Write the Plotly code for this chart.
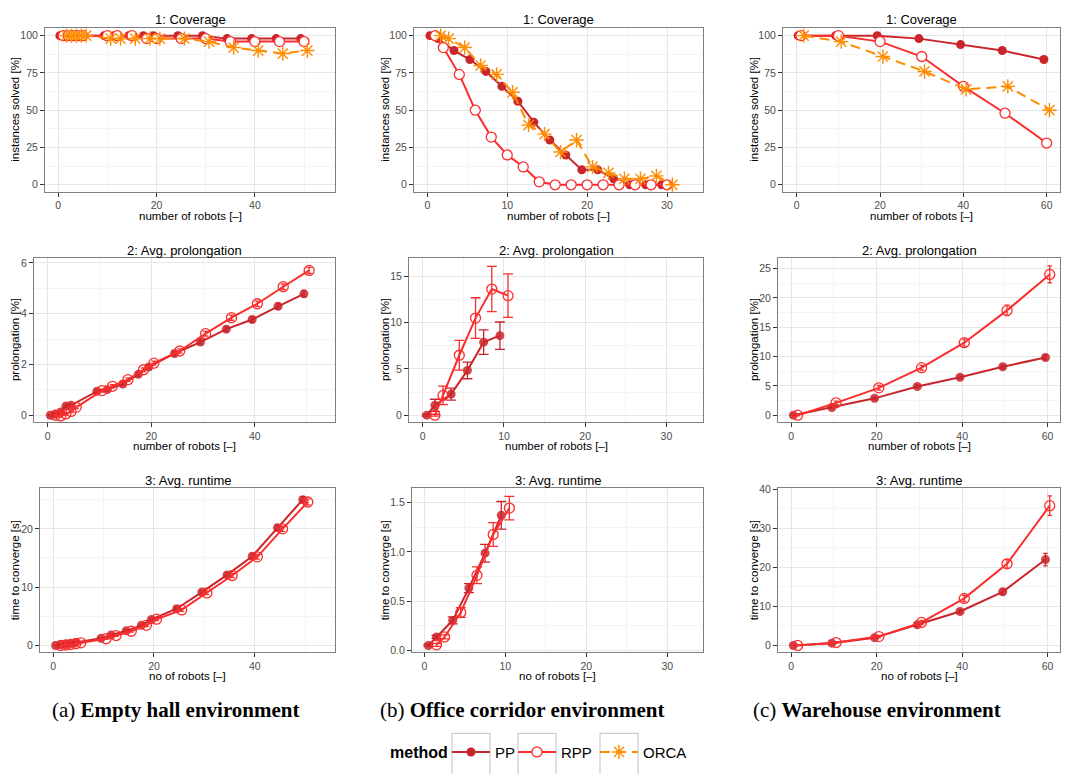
import plotly.graph_objects as go
from plotly.subplots import make_subplots

# ---------------- data ----------------
methods = ["PP", "RPP", "ORCA"]

hall_n = [1, 2, 3, 4, 5, 10, 12, 15, 18, 20, 25, 30, 35, 40, 45, 50]
hall_cov_pp = [100, 100, 100, 100, 100, 100, 100, 100, 100, 100, 100, 100, 98, 98, 98, 98]
hall_cov_rpp = [100, 100, 100, 100, 100, 100, 100, 100, 98, 98, 98, 98, 96, 96, 96, 96]
hall_cov_orca = [100, 100, 100, 100, 100, 98, 98, 98, 98, 98, 98, 96, 92, 90, 88, 90]
hall_prol_pp = [0.0, 0.04, 0.13, 0.36, 0.39, 0.94, 1.01, 1.23, 1.61, 1.9, 2.43, 2.88, 3.39, 3.77, 4.29, 4.78]
hall_prol_pp_err = [0.02, 0.03, 0.04, 0.05, 0.05, 0.06, 0.06, 0.06, 0.07, 0.07, 0.08, 0.08, 0.09, 0.1, 0.1, 0.12]
hall_prol_rpp = [0.0, -0.03, 0.05, 0.15, 0.31, 0.97, 1.14, 1.4, 1.79, 2.05, 2.53, 3.21, 3.84, 4.39, 5.06, 5.7]
hall_prol_rpp_err = [0.02, 0.03, 0.04, 0.05, 0.05, 0.06, 0.06, 0.07, 0.07, 0.08, 0.08, 0.09, 0.1, 0.1, 0.11, 0.12]
hall_rt_pp = [0.0, 0.1, 0.2, 0.35, 0.5, 1.24, 1.8, 2.5, 3.45, 4.46, 6.3, 9.15, 12.1, 15.3, 20.2, 25.0]
hall_rt_pp_err = [0.01, 0.02, 0.03, 0.04, 0.05, 0.1, 0.12, 0.15, 0.2, 0.22, 0.25, 0.3, 0.35, 0.4, 0.45, 0.5]
hall_rt_rpp = [0.0, 0.08, 0.18, 0.3, 0.45, 1.15, 1.7, 2.43, 3.45, 4.5, 6.1, 9.0, 12.0, 15.2, 20.0, 24.6]
hall_rt_rpp_err = [0.01, 0.02, 0.03, 0.04, 0.05, 0.1, 0.12, 0.15, 0.2, 0.22, 0.25, 0.3, 0.35, 0.4, 0.45, 0.5]

corr_n = [1, 2, 4, 6, 8, 10, 12, 14, 16, 18, 20, 22, 24, 26, 28, 30]
corr_cov_pp = [100, 98, 90, 84, 76, 66, 56, 42, 30, 20, 10, 10, 4, 0, 0, 0]
corr_cov_rpp = [100, 92, 74, 50, 32, 20, 12, 2, 0, 0, 0, 0, 0, 0, 0, 0]
corr_cov_orca = [100, 98, 92, 80, 74, 62, 40, 34, 22, 30, 12, 8, 4, 4, 6, 0]
corr_m = [1, 2, 4, 6, 8, 10]
corr_prol_pp = [0.0, 1.07, 2.28, 4.84, 7.9, 8.6]
corr_prol_pp_err = [0.1, 0.65, 0.65, 0.9, 1.33, 1.48]
corr_prol_rpp = [0.0, 2.14, 6.48, 10.5, 13.64, 12.93]
corr_prol_rpp_err = [0.1, 1.0, 1.6, 2.2, 2.45, 2.35]
corr_rt_pp = [0.05, 0.137, 0.305, 0.633, 0.988, 1.373]
corr_rt_pp_err = [0.01, 0.015, 0.035, 0.045, 0.09, 0.14]
corr_rt_rpp = [0.057, 0.137, 0.385, 0.763, 1.178, 1.446]
corr_rt_rpp_err = [0.015, 0.02, 0.05, 0.085, 0.12, 0.12]

wh_n = [1, 10, 20, 30, 40, 50, 60]
wh_cov_pp = [100, 100, 100, 98, 94, 90, 84]
wh_cov_rpp = [100, 100, 96, 86, 66, 48, 28]
wh_cov_orca = [100, 96, 86, 76, 64, 66, 50]
wh_prol_pp = [0.0, 1.3, 2.87, 4.9, 6.46, 8.26, 9.83]
wh_prol_pp_err = [0.05, 0.2, 0.2, 0.25, 0.25, 0.3, 0.35]
wh_prol_rpp = [0.0, 2.1, 4.66, 8.1, 12.36, 17.87, 24.0]
wh_prol_rpp_err = [0.1, 0.3, 0.4, 0.4, 0.6, 0.9, 1.45]
wh_rt_pp = [0.0, 0.6, 2.0, 5.3, 8.7, 13.75, 22.0]
wh_rt_pp_err = [0.02, 0.1, 0.2, 0.4, 0.5, 0.6, 1.6]
wh_rt_rpp = [0.0, 0.75, 2.27, 5.9, 12.06, 20.9, 35.8]
wh_rt_rpp_err = [0.02, 0.15, 0.3, 0.5, 0.8, 1.1, 2.5]

panel_titles = ["1: Coverage", "2: Avg. prolongation", "3: Avg. runtime"]
y_titles = ["instances solved [%]", "prolongation [%]", "time to converge [s]"]
x_titles = ["number of robots [\u2013]", "number of robots [\u2013]", "no of robots [\u2013]"]
captions = [("(a) ", "Empty hall environment"),
            ("(b) ", "Office corridor environment"),
            ("(c) ", "Warehouse environment")]
legend_title = "method"

# ---------------- styling ----------------
W, H = 1070, 774
FONT = "Liberation Sans, Arial, sans-serif"
COL = {"PP": "#c9262c", "RPP": "#fb2d2d", "ORCA": "#ff8c00"}
dodge3 = {"PP": -0.67, "RPP": 0.0, "ORCA": 0.67}
dodge2 = {"PP": -0.5, "RPP": 0.5}
LEG = {"PP": "legend", "RPP": "legend2", "ORCA": "legend3"}
LEG_BOX = {"PP": 452, "RPP": 518, "ORCA": 600}   # left px of legend key boxes

boxes = {
    (1, 1): (45, 335, 23, 189), (1, 2): (414, 703, 23, 189), (1, 3): (783, 1060, 23, 189),
    (2, 1): (34, 335, 256, 422), (2, 2): (409, 703, 256, 422), (2, 3): (778, 1060, 256, 422),
    (3, 1): (40, 335, 489, 655), (3, 2): (412, 703, 489, 655), (3, 3): (778, 1060, 489, 655),
}
xranges = {
    (1, 1): [-2.7, 56.3], (1, 2): [-1.67, 34.5], (1, 3): [-3.3, 63.2],
    (2, 1): [-2.65, 55.5], (2, 2): [-1.69, 34.5], (2, 3): [-3.1, 62.9],
    (3, 1): [-2.6, 55.9], (3, 2): [-1.52, 34.4], (3, 3): [-3.1, 62.9],
}
yranges = {
    (1, 1): [-4.7, 105.3], (1, 2): [-4.7, 105.3], (1, 3): [-4.7, 105.3],
    (2, 1): [-0.27, 6.19], (2, 2): [-0.75, 17.0], (2, 3): [-1.18, 26.8],
    (3, 1): [-1.19, 26.95], (3, 2): [-0.02, 1.647], (3, 3): [-1.77, 40.25],
}
xdt = {1: 20, 2: 10, 3: 20}
ydt = {(1, 1): 25, (1, 2): 25, (1, 3): 25, (2, 1): 2, (2, 2): 5, (2, 3): 5,
       (3, 1): 10, (3, 2): 0.5, (3, 3): 10}
capw = {1: 2.5, 2: 5, 3: 2.2}

fig = make_subplots(rows=3, cols=3)

env = {
    1: dict(n=hall_n, m=hall_n,
            cov={"PP": hall_cov_pp, "RPP": hall_cov_rpp, "ORCA": hall_cov_orca},
            prol={"PP": (hall_prol_pp, hall_prol_pp_err), "RPP": (hall_prol_rpp, hall_prol_rpp_err)},
            rt={"PP": (hall_rt_pp, hall_rt_pp_err), "RPP": (hall_rt_rpp, hall_rt_rpp_err)}),
    2: dict(n=corr_n, m=corr_m,
            cov={"PP": corr_cov_pp, "RPP": corr_cov_rpp, "ORCA": corr_cov_orca},
            prol={"PP": (corr_prol_pp, corr_prol_pp_err), "RPP": (corr_prol_rpp, corr_prol_rpp_err)},
            rt={"PP": (corr_rt_pp, corr_rt_pp_err), "RPP": (corr_rt_rpp, corr_rt_rpp_err)}),
    3: dict(n=wh_n, m=wh_n,
            cov={"PP": wh_cov_pp, "RPP": wh_cov_rpp, "ORCA": wh_cov_orca},
            prol={"PP": (wh_prol_pp, wh_prol_pp_err), "RPP": (wh_prol_rpp, wh_prol_rpp_err)},
            rt={"PP": (wh_rt_pp, wh_rt_pp_err), "RPP": (wh_rt_rpp, wh_rt_rpp_err)}),
}


def marker_for(meth, row):
    if meth == "PP":
        return dict(symbol="circle", size=9, color=COL["PP"], opacity=1 if row == 1 else 0.85,
                    line=dict(width=0))
    if meth == "RPP":
        if row == 1:
            return dict(symbol="circle", size=10, color="white", line=dict(width=1.3, color=COL["RPP"]))
        return dict(symbol="circle-open", size=10, color=COL["RPP"], line=dict(width=1.3))
    return dict(symbol="asterisk-open", size=12, color=COL["ORCA"], line=dict(width=1.4, color=COL["ORCA"]))


for c in (1, 2, 3):
    e = env[c]
    for meth in methods:
        fig.add_trace(go.Scatter(
            x=[v + dodge3[meth] for v in e["n"]], y=e["cov"][meth], mode="lines+markers",
            name=meth, legendgroup=meth, showlegend=(c == 1), legend=LEG[meth],
            line=dict(color=COL[meth], width=2, dash=("10px,6px" if meth == "ORCA" else "solid")),
            marker=marker_for(meth, 1)), row=1, col=c)
    for r, key in ((2, "prol"), (3, "rt")):
        for meth in ("PP", "RPP"):
            vals, err = e[key][meth]
            fig.add_trace(go.Scatter(
                x=[v + dodge2[meth] for v in e["m"]], y=vals, mode="lines+markers",
                name=meth, legendgroup=meth, showlegend=False,
                line=dict(color=COL[meth], width=2),
                error_y=dict(type="data", array=err, visible=True, color=COL[meth],
                             thickness=1.3, width=capw[c]),
                marker=marker_for(meth, r)), row=r, col=c)

annotations = []
for (r, c), (x0, x1, y0, y1) in boxes.items():
    idx = (r - 1) * 3 + c
    sfx = "" if idx == 1 else str(idx)
    fig.layout["xaxis" + sfx].update(
        domain=[x0 / W, x1 / W], range=xranges[(r, c)], dtick=xdt[c], tick0=0,
        showgrid=True, gridcolor="#e6e6e6", gridwidth=1, zeroline=False,
        minor=dict(dtick=xdt[c] / 2, showgrid=True, gridcolor="#f4f4f4", gridwidth=0.8),
        showline=True, mirror=True, linecolor="#7f7f7f", linewidth=1,
        ticks="outside", ticklen=4, tickcolor="#333333", tickwidth=1,
        tickfont=dict(family=FONT, size=10.5, color="#4d4d4d"))
    fig.layout["yaxis" + sfx].update(
        domain=[1 - y1 / H, 1 - y0 / H], range=yranges[(r, c)], dtick=ydt[(r, c)], tick0=0,
        tickformat=(".1f" if (r, c) == (3, 2) else None),
        showgrid=True, gridcolor="#e6e6e6", gridwidth=1, zeroline=False,
        minor=dict(dtick=ydt[(r, c)] / 2, showgrid=True, gridcolor="#f4f4f4", gridwidth=0.8),
        showline=True, mirror=True, linecolor="#7f7f7f", linewidth=1,
        ticks="outside", ticklen=4, tickcolor="#333333", tickwidth=1,
        tickfont=dict(family=FONT, size=10.5, color="#4d4d4d"))
    cx = (x0 + x1) / 2 / W
    annotations.append(dict(text=panel_titles[r - 1], x=cx, y=1 - (y0 - 8) / H, xref="paper", yref="paper",
                            showarrow=False, xanchor="center", yanchor="middle",
                            font=dict(family=FONT, size=13, color="black")))
    annotations.append(dict(text=x_titles[r - 1], x=cx, y=1 - (y1 + 24) / H, xref="paper", yref="paper",
                            showarrow=False, xanchor="center", yanchor="middle",
                            font=dict(family=FONT, size=11.5, color="black")))
    ytx = {1: 15, 2: 385, 3: 754}[c]
    annotations.append(dict(text=y_titles[r - 1], x=ytx / W, y=1 - (y0 + y1) / 2 / H, xref="paper",
                            yref="paper", showarrow=False, textangle=-90, xanchor="center",
                            yanchor="middle", font=dict(family=FONT, size=11.5, color="black")))

cap_x = [50, 378, 751]
for (pre, bold), cx in zip(captions, cap_x):
    annotations.append(dict(text=pre + "<b>" + bold + "</b>", x=cx / W, y=1 - 713 / H, xref="paper",
                            yref="paper", showarrow=False, xanchor="left", yanchor="middle",
                            font=dict(family="Liberation Serif, Times New Roman, serif", size=21,
                                      color="black")))

annotations.append(dict(text="<b>" + legend_title + "</b>", x=388 / W, y=1 - 756 / H, xref="paper",
                        yref="paper", showarrow=False, xanchor="left", yanchor="middle",
                        font=dict(family=FONT, size=16, color="black")))

shapes = []
for meth in methods:
    bx = LEG_BOX[meth]
    shapes.append(dict(type="rect", xref="paper", yref="paper", x0=bx / W, x1=(bx + 38) / W,
                       y0=-0.01, y1=1 - 737 / H, line=dict(color="#cccccc", width=1.2),
                       fillcolor="rgba(0,0,0,0)", layer="below"))

legend_layout = {}
for meth in methods:
    keyc = LEG_BOX[meth] + 19
    legend_layout[LEG[meth]] = dict(
        orientation="h", x=(keyc - 24) / W, xanchor="left", y=1 - 756 / H, yanchor="middle",
        font=dict(family=FONT, size=15, color="black"), itemwidth=38,
        bgcolor="rgba(0,0,0,0)", borderwidth=0)

fig.update_layout(
    width=W, height=H, margin=dict(l=0, r=0, t=0, b=0),
    paper_bgcolor="white", plot_bgcolor="white",
    annotations=annotations, shapes=shapes,
    font=dict(family=FONT),
    **legend_layout,
)

fig.write_html("out.html")
